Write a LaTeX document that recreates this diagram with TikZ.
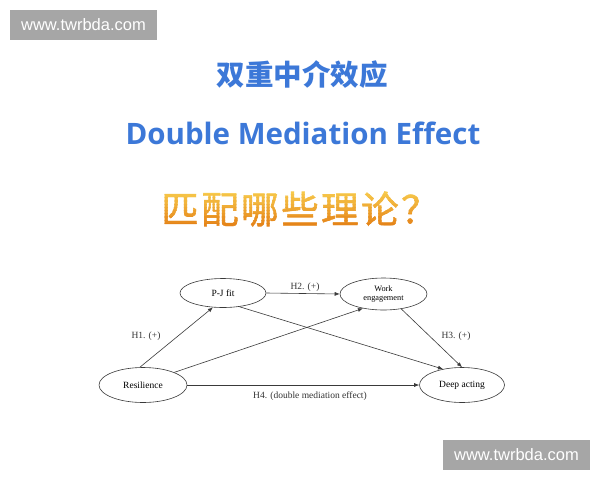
\documentclass[tikz,border=0pt]{standalone}
\usepackage{fontspec}
\setmainfont{Liberation Serif}
\newfontfamily\wmfont{Liberation Sans}
\newfontfamily\cjk{Noto Sans CJK SC}
\newfontfamily\cjkq{Noto Sans CJK SC}[FakeBold=1.2]
\newfontfamily\titlefont{Open Sans}
\usetikzlibrary{arrows.meta,shapes.geometric}
\definecolor{titleblue}{HTML}{3C78D8}
\definecolor{qtop}{HTML}{F9D050}
\definecolor{qbot}{HTML}{E27810}
\definecolor{wmgray}{HTML}{A6A6A6}
\definecolor{linegray}{HTML}{3A3A3A}
\newcommand{\qtext}{匹\hspace{2.5pt}配\hspace{2.5pt}哪\hspace{2.5pt}些\hspace{2.5pt}理\hspace{2.5pt}论\hspace{2.5pt}？}
\tikzset{
  var/.style={draw=linegray, line width=0.6pt, ellipse, inner sep=0pt, font=\fontsize{9.5}{10}\selectfont},
  path/.style={draw=linegray, line width=0.6pt, -{Latex[length=5pt,width=4pt]}},
  lbl/.style={font=\fontsize{9.5}{10}\selectfont, text=black!80},
  wm/.style={fill=wmgray, text=white, font=\wmfont\fontsize{16.5}{18}\selectfont, minimum width=147pt, minimum height=30pt, inner sep=0pt},
  qstyle/.style={anchor=west, inner sep=0pt, font=\cjkq\fontsize{37.5}{40}\selectfont}
}
\begin{document}
\begin{tikzpicture}[x=1pt,y=-1pt]
\useasboundingbox[fill=white] (0,0) rectangle (600,480);
\node[wm] (wm1) at (83.5,25) {www.twrbda.com};
\node[wm] (wm2) at (516.5,455) {www.twrbda.com};
\node[text=titleblue, font=\cjk\bfseries\fontsize{28.5}{30}\selectfont] (t1) at (302,75) {双重中介效应};
\node[text=titleblue, font=\titlefont\bfseries\fontsize{29.5}{32}\selectfont] (t2) at (303,133) {Double Mediation Effect};
% gradient question text, drawn in horizontal bands
\foreach \i in {0,...,13}{
  \pgfmathtruncatemacro\pc{100-100*\i/13}
  \begin{scope}
    \clip (150,{188+3.2*\i}) rectangle (450,{188+3.2*(\i+1)+0.3});
    \node[qstyle, text=qtop!\pc!qbot] (q\i) at (161,209) {\qtext};
  \end{scope}
}
% diagram
\node[var, minimum width=86pt, minimum height=29pt] (pj) at (223,293) {P-J fit};
\node[var, minimum width=87pt, minimum height=32pt, align=center, font=\fontsize{8.3}{9.5}\selectfont] (we) at (383.5,294) {Work\\engagement};
\node[var, minimum width=88pt, minimum height=35pt] (res) at (143,385) {Resilience};
\node[var, minimum width=85pt, minimum height=35pt] (da) at (462,385) {Deep acting};
\draw[path] (res.100) -- (pj.235);
\draw[path] (pj.east) -- (we.west);
\draw[path] (res.22) -- (we.215);
\draw[path] (pj.-40) -- (da.140);
\draw[path] (we.-40) -- (da.north);
\draw[path] (res.east) -- (da.west);
\node[lbl] (h1) at (146,336) {H1. (+)};
\node[lbl] (h2) at (305,287) {H2. (+)};
\node[lbl] (h3) at (456,336) {H3. (+)};
\node[lbl] (h4) at (310,396) {H4. (double mediation effect)};
\end{tikzpicture}
\end{document}
